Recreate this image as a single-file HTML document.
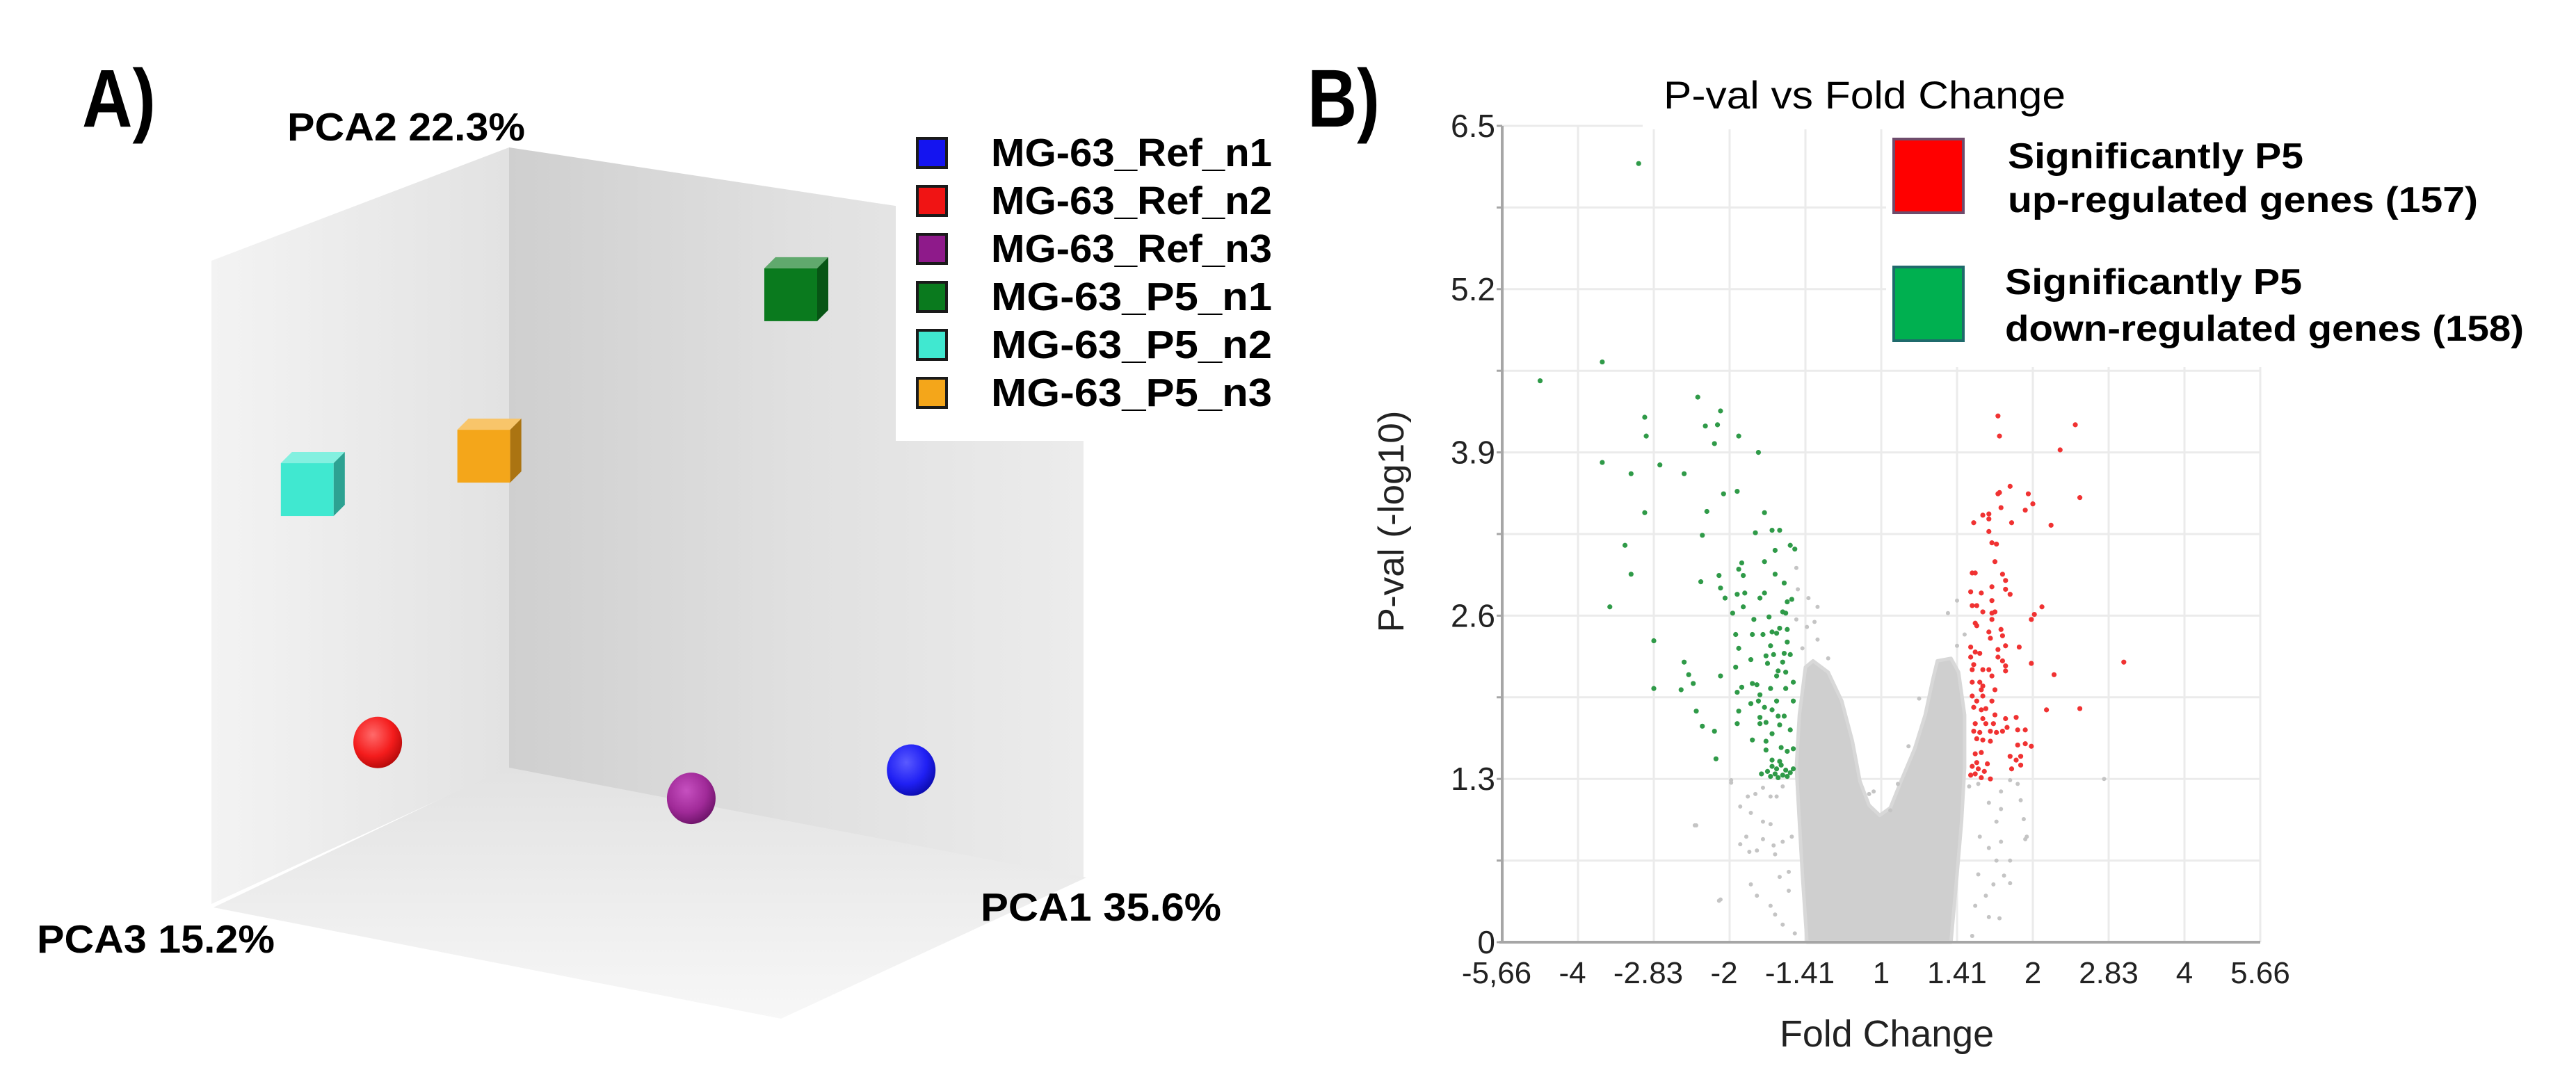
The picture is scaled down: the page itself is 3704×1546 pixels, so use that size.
<!DOCTYPE html>
<html>
<head>
<meta charset="utf-8">
<style>
  html,body{margin:0;padding:0;background:#fff;}
  svg{display:block;}
  text{font-family:"Liberation Sans",Arial,sans-serif;}
</style>
</head>
<body>
<svg id="fig" width="3704" height="1546" viewBox="0 0 3704 1546" xmlns="http://www.w3.org/2000/svg">
  <defs>
    <linearGradient id="gLeftWall" x1="304" y1="0" x2="732" y2="0" gradientUnits="userSpaceOnUse">
      <stop offset="0" stop-color="#f3f3f3"/><stop offset="1" stop-color="#e2e2e2"/>
    </linearGradient>
    <linearGradient id="gRightWall" x1="732" y1="0" x2="1558" y2="0" gradientUnits="userSpaceOnUse">
      <stop offset="0" stop-color="#cfcfcf"/><stop offset="0.5" stop-color="#e0e0e0"/><stop offset="1" stop-color="#ececec"/>
    </linearGradient>
    <linearGradient id="gFloor" x1="0" y1="1102" x2="0" y2="1465" gradientUnits="userSpaceOnUse">
      <stop offset="0" stop-color="#e2e2e2"/><stop offset="1" stop-color="#f7f7f7"/>
    </linearGradient>
    <radialGradient id="sphRed" cx="0.4" cy="0.35" r="0.7"><stop offset="0" stop-color="#ff6a6a"/><stop offset="0.6" stop-color="#f41c1c"/><stop offset="1" stop-color="#b00808"/></radialGradient>
    <radialGradient id="sphPurple" cx="0.4" cy="0.35" r="0.7"><stop offset="0" stop-color="#c650c0"/><stop offset="0.6" stop-color="#a02a98"/><stop offset="1" stop-color="#6a1266"/></radialGradient>
    <radialGradient id="sphBlue" cx="0.4" cy="0.35" r="0.7"><stop offset="0" stop-color="#5a5aff"/><stop offset="0.6" stop-color="#2020f4"/><stop offset="1" stop-color="#0a0aa8"/></radialGradient>
  </defs>

  <g id="panelA">
    <text x="118" y="182" font-size="118" font-weight="bold" textLength="106" lengthAdjust="spacingAndGlyphs">A)</text>
    <polygon points="732,1102 307,1305 1123,1465 1562,1262" fill="url(#gFloor)"/>
    <polygon points="304,375 732,212 732,1104 304,1300" fill="url(#gLeftWall)"/>
    <polygon points="732,212 1558,337 1558,1262 732,1104" fill="url(#gRightWall)"/>
    <g id="pcaMarks"></g>
    <rect x="1288" y="150" width="600" height="484" fill="#ffffff"/>
    <g id="pcaLegend"></g>
    <text x="413" y="202" font-size="57" font-weight="bold" textLength="342" lengthAdjust="spacingAndGlyphs">PCA2 22.3%</text>
    <text x="53" y="1370" font-size="57" font-weight="bold" textLength="342" lengthAdjust="spacingAndGlyphs">PCA3 15.2%</text>
    <text x="1410" y="1324" font-size="57" font-weight="bold" textLength="346" lengthAdjust="spacingAndGlyphs">PCA1 35.6%</text>
  </g>

  <g id="panelB">
    <text x="1880" y="182" font-size="118" font-weight="bold" textLength="104" lengthAdjust="spacingAndGlyphs">B)</text>
    <g id="grid"></g>
    <g id="cloud"></g>
    <g id="sigPts"></g>
    <rect x="2712" y="172" width="560" height="356" fill="#ffffff"/>
    <rect x="2362" y="170" width="360" height="16" fill="#ffffff"/>
    <text x="2392" y="156" font-size="56" textLength="578" lengthAdjust="spacingAndGlyphs">P-val vs Fold Change</text>
    <g id="axes"></g>
    <g>
      <rect x="2723" y="200" width="100" height="106" fill="#ff0000" stroke="#6e4c6c" stroke-width="4"/>
      <text x="2887" y="242" font-size="52" font-weight="bold" textLength="425" lengthAdjust="spacingAndGlyphs">Significantly P5</text>
      <text x="2887" y="305" font-size="52" font-weight="bold" textLength="676" lengthAdjust="spacingAndGlyphs">up-regulated genes (157)</text>
      <rect x="2723" y="384" width="100" height="106" fill="#00b050" stroke="#1f6a6c" stroke-width="4"/>
      <text x="2883" y="423" font-size="52" font-weight="bold" textLength="427" lengthAdjust="spacingAndGlyphs">Significantly P5</text>
      <text x="2883" y="490" font-size="52" font-weight="bold" textLength="746" lengthAdjust="spacingAndGlyphs">down-regulated genes (158)</text>
    </g>
    <text x="2713" y="1505" font-size="54" text-anchor="middle" textLength="308" lengthAdjust="spacingAndGlyphs" fill="#222">Fold Change</text>
    <text x="0" y="0" font-size="52" text-anchor="middle" textLength="319" lengthAdjust="spacingAndGlyphs" fill="#222" transform="translate(2018,750) rotate(-90)">P-val (-log10)</text>
  </g>
</svg>

<script>
const sampleNames = ["MG-63_Ref_n1","MG-63_Ref_n2","MG-63_Ref_n3","MG-63_P5_n1","MG-63_P5_n2","MG-63_P5_n3"];
const sampleColors = ["#1414f0","#f01414","#8e1a8a","#0a7a1e","#40e8d0","#f4a61a"];
const pc1 = [0.70, 0.08, 0.42, 0.50, 0.07, 0.12];
const pc2 = [0.12, 0.19, 0.07, 0.86, 0.65, 0.60];
const pc3 = [0.00, 0.60, 0.20, 0.00, 0.80, 0.30];
const sampleShape = ["sphere","sphere","sphere","cube","cube","cube"];

const xTickVals = [-2.5,-2,-1.5,-1,-0.5,0,0.5,1,1.5,2,2.5];
const xTickLabels = ["-5,66","-4","-2.83","-2","-1.41","1","1.41","2","2.83","4","5.66"];
const yTickVals = [0,1.3,2.6,3.9,5.2,6.5];
const yTickLabels = ["0","1.3","2.6","3.9","5.2","6.5"];

const greenLf = [-1.60,-1.84,-2.25,-1.21,-1.06,-1.56,-1.16,-1.08,-1.55,-0.94,-1.10,-0.81,-1.84,-1.46,-1.65,-1.30,-1.04,-0.95,-1.56,-1.15,-0.77,-1.18,-0.83,-0.72,-0.67,-1.69,-0.70,-0.60,-0.57,-0.92,-0.77,-0.94,-0.91,-1.65,-1.07,-0.70,-1.19,-0.64,-1.06,-0.95,-0.90,-1.03,-0.80,-0.77,-1.79,-0.91,-0.62,-0.59,-0.98,-0.84,-0.74,-0.65,-0.63,-0.96,-0.85,-0.78,-0.72,-0.67,-0.62,-0.69,-1.50,-0.94,-0.73,-0.62,-0.76,-0.71,-0.64,-0.60,-0.86,-1.30,-0.96,-0.75,-0.65,-0.68,-0.63,-0.69,-1.27,-1.06,-1.24,-0.85,-0.82,-0.58,-1.50,-1.32,-0.95,-0.92,-0.80,-0.73,-0.63,-0.86,-0.81,-0.69,-0.58,-1.22,-0.94,-0.77,-0.72,-0.68,-0.64,-0.80,-1.18,-0.95,-0.80,-0.76,-0.67,-1.10,-0.72,-0.60,-0.85,-0.76,-0.76,-0.66,-0.58,-0.62,-1.09,-0.72,-0.67,-0.72,-0.69,-0.66,-0.63,-0.70,-0.65,-0.60,-0.75,-0.68,-0.62,-0.58,-0.73,-0.79];
const greenP  = [6.20,4.62,4.47,4.34,4.23,4.18,4.11,4.12,4.03,4.03,3.97,3.90,3.82,3.80,3.73,3.73,3.57,3.59,3.42,3.43,3.42,3.24,3.26,3.28,3.28,3.16,3.12,3.16,3.13,3.02,3.03,2.97,2.92,2.93,2.92,2.93,2.87,2.86,2.82,2.77,2.78,2.74,2.74,2.78,2.67,2.67,2.71,2.73,2.62,2.57,2.59,2.63,2.62,2.45,2.45,2.45,2.47,2.50,2.49,2.46,2.40,2.34,2.36,2.39,2.28,2.29,2.30,2.29,2.25,2.23,2.19,2.22,2.23,2.16,2.15,2.12,2.13,2.12,2.06,2.06,2.05,2.07,2.02,2.01,1.99,2.03,1.97,2.02,2.02,1.90,1.92,1.92,1.92,1.84,1.84,1.87,1.85,1.80,1.80,1.79,1.72,1.74,1.74,1.75,1.73,1.68,1.66,1.69,1.61,1.60,1.53,1.55,1.54,1.52,1.46,1.45,1.44,1.40,1.38,1.41,1.37,1.34,1.33,1.35,1.36,1.31,1.32,1.38,1.32,1.34];

const redLf = [0.77,1.28,0.78,1.18,0.85,0.77,0.78,0.97,1.31,1.00,0.79,0.95,0.67,0.71,0.71,0.61,0.86,1.12,0.71,0.73,0.76,0.75,0.60,0.62,0.80,0.82,0.59,0.66,0.73,0.82,0.85,0.73,0.60,0.63,0.67,0.73,0.75,1.06,1.01,0.99,0.73,0.62,0.63,0.79,0.71,0.80,0.72,0.82,0.91,0.77,0.59,0.62,0.65,0.59,0.77,0.80,0.99,1.60,0.61,0.82,0.60,0.67,0.71,0.82,0.73,1.14,0.60,0.65,0.67,0.66,0.75,0.60,0.67,0.63,0.73,0.61,0.66,0.69,1.09,1.31,0.75,0.82,0.89,0.67,0.62,0.69,0.74,0.83,0.61,0.65,0.72,0.76,0.80,0.90,0.95,0.63,0.67,0.72,0.90,0.95,0.99,0.62,0.66,0.85,0.92,0.63,0.60,0.64,0.68,0.62,0.70,0.59,0.66,0.72,0.89,0.92,0.86];
const redP  = [4.19,4.12,4.03,3.92,3.63,3.57,3.58,3.57,3.54,3.49,3.46,3.44,3.40,3.41,3.37,3.34,3.34,3.32,3.27,3.18,3.17,3.03,2.94,2.94,2.93,2.88,2.79,2.78,2.83,2.81,2.77,2.72,2.68,2.68,2.63,2.62,2.63,2.67,2.61,2.57,2.57,2.54,2.52,2.49,2.47,2.44,2.42,2.36,2.35,2.33,2.35,2.31,2.30,2.27,2.27,2.24,2.22,2.23,2.21,2.20,2.17,2.17,2.17,2.16,2.12,2.13,2.07,2.07,2.04,2.01,2.01,1.96,1.96,1.92,1.92,1.87,1.85,1.86,1.85,1.86,1.81,1.78,1.79,1.78,1.74,1.74,1.74,1.71,1.68,1.67,1.68,1.67,1.68,1.69,1.69,1.62,1.61,1.60,1.57,1.58,1.56,1.50,1.51,1.48,1.48,1.43,1.40,1.38,1.36,1.34,1.42,1.33,1.31,1.30,1.45,1.41,1.38];

const grayLf = [-0.56,-0.55,-0.48,-0.42,-0.44,-0.56,-0.49,-0.42,-0.52,-0.35,-0.99,-0.93,-0.88,-0.83,-0.86,-0.78,-0.73,-0.69,-0.65,-0.78,-0.73,-0.89,-0.93,-0.87,-0.82,-0.78,-0.71,-0.70,-0.65,-0.59,-1.22,-0.86,-0.82,-1.07,-0.73,-0.67,-0.61,-0.70,-0.65,-0.57,-0.61,0.44,0.50,0.55,0.50,0.58,0.64,0.71,0.79,0.85,0.90,0.92,0.79,0.94,0.95,0.76,0.79,0.71,0.65,0.76,0.85,0.64,0.74,0.81,0.85,0.69,0.62,0.71,0.78,0.60,0.25,0.18,0.11,-0.05,0.06,-0.08,1.47,-1.23,-1.06,-0.99,0.96];
const grayP  = [2.98,2.81,2.74,2.67,2.55,2.57,2.51,2.41,2.34,2.26,1.27,1.08,1.16,1.18,1.03,1.23,1.16,1.16,1.24,0.96,0.94,0.84,0.78,0.72,0.73,0.82,0.77,0.70,0.80,0.84,0.93,0.46,0.37,0.33,0.29,0.52,0.41,0.22,0.14,0.07,0.56,2.62,2.72,2.45,2.36,1.24,1.26,1.11,1.20,1.29,1.26,1.13,1.06,0.98,0.82,0.96,0.80,0.75,0.84,0.65,0.65,0.54,0.46,0.53,0.47,0.37,0.29,0.20,0.19,0.05,1.94,1.56,1.26,1.20,1.05,1.18,1.30,0.93,0.34,1.29,0.84];

const cloudLf = [-0.49,-0.52,-0.54,-0.56,-0.54,-0.50,-0.45,-0.35,-0.26,-0.19,-0.14,-0.08,-0.01,0.06,0.13,0.22,0.29,0.34,0.37,0.46,0.51,0.55,0.55,0.53,0.50,0.46];
const cloudP  = [0.00,0.54,0.96,1.39,1.81,2.19,2.24,2.15,1.92,1.60,1.28,1.09,1.01,1.07,1.28,1.54,1.81,2.09,2.24,2.26,2.15,1.81,1.39,0.96,0.54,0.00];

const SVGNS = "http://www.w3.org/2000/svg";
function mk(tag, attrs, parent){
  const e = document.createElementNS(SVGNS, tag);
  for (const k in attrs) e.setAttribute(k, attrs[k]);
  parent.appendChild(e);
  return e;
}

const O = [732,1104], V1 = [826,158], V2 = [0,-892], V3 = [-425,201];
function proj(a,b,c){ return [O[0]+a*V1[0]+b*V2[0]+c*V3[0], O[1]+a*V1[1]+b*V2[1]+c*V3[1]]; }
function shade(hex, f){
  const n = parseInt(hex.slice(1),16);
  let r=(n>>16)&255,g=(n>>8)&255,b=n&255;
  const m = v => Math.max(0,Math.min(255,Math.round(f>1? v+(255-v)*(f-1) : v*f)));
  return "rgb("+m(r)+","+m(g)+","+m(b)+")";
}
const marksG = document.getElementById("pcaMarks");
const sphereFills = {"#1414f0":"url(#sphBlue)","#f01414":"url(#sphRed)","#8e1a8a":"url(#sphPurple)"};
for (let i=0;i<sampleNames.length;i++){
  const p = proj(pc1[i],pc2[i],pc3[i]);
  if (sampleShape[i]==="sphere"){
    const c = mk("ellipse",{cx:p[0],cy:p[1],rx:35,ry:37,fill:sphereFills[sampleColors[i]]},marksG);
    
    
  } else {
    const g = mk("g",{},marksG);
    
    
    const s = 76, d = 16;
    const x0 = p[0]-s/2-d/2, y0 = p[1]-s/2+d/2;
    mk("rect",{x:x0,y:y0,width:s,height:s,fill:sampleColors[i]},g);
    mk("polygon",{points:[x0,y0, x0+s,y0, x0+s+d,y0-d, x0+d,y0-d].join(" "),fill:shade(sampleColors[i],1.35)},g);
    mk("polygon",{points:[x0+s,y0, x0+s+d,y0-d, x0+s+d,y0+s-d, x0+s,y0+s].join(" "),fill:shade(sampleColors[i],0.7)},g);
  }
}
const legA = document.getElementById("pcaLegend");
for (let i=0;i<sampleNames.length;i++){
  const y = 199 + i*69;
  const sw = mk("rect",{x:1319,y:y,width:42,height:42,fill:sampleColors[i],stroke:"#1a1a1a","stroke-width":4},legA);
  
  
  const t = mk("text",{x:1425,y:y+40,"font-size":57,"font-weight":"bold",textLength:404,lengthAdjust:"spacingAndGlyphs"},legA);
  t.textContent = sampleNames[i];
  
  
}

const X0 = 2160, X1 = 3250, Y0 = 1355, YMAX = 6.5, YTOP = 181;
function xs(lf){ return X0 + (lf + 2.5) / 5 * (X1 - X0); }
function ys(p){ return Y0 - p / YMAX * (Y0 - YTOP); }

const grid = document.getElementById("grid");
for (let i=1;i<xTickVals.length;i++){
  const l = mk("line",{x1:xs(xTickVals[i]),x2:xs(xTickVals[i]),y1:ys(YMAX),y2:Y0,stroke:"#ebebeb","stroke-width":3},grid);
  
  
}
for (let k=1;k<=10;k++){
  const v = k*0.65;
  const l = mk("line",{x1:X0,x2:X1,y1:ys(v),y2:ys(v),stroke:"#ebebeb","stroke-width":3},grid);
  
  
}

const cloudG = document.getElementById("cloud");
const pts = cloudLf.map((v,i)=> xs(v).toFixed(1)+","+ys(cloudP[i]).toFixed(1)).join(" ");
const poly = mk("polygon",{points:pts,fill:"#cfcfcf",stroke:"#d8d8d8","stroke-width":5,"stroke-linejoin":"round"},cloudG);


for (let i=0;i<grayLf.length;i++){
  const c = mk("circle",{cx:xs(grayLf[i]),cy:ys(grayP[i]),r:3,fill:"#c4c4c4"},cloudG);
  
  
}

const sigG = document.getElementById("sigPts");
for (let i=0;i<greenLf.length;i++){
  const c = mk("circle",{cx:xs(greenLf[i]),cy:ys(greenP[i]),r:3.6,fill:"#2f9a48"},sigG);
  
  
}
for (let i=0;i<redLf.length;i++){
  const c = mk("circle",{cx:xs(redLf[i]),cy:ys(redP[i]),r:3.6,fill:"#f03232"},sigG);
  
  
}

const axes = document.getElementById("axes");
const ya = mk("line",{x1:X0,x2:X0,y1:YTOP,y2:Y0+2,stroke:"#a6a6a6","stroke-width":4},axes);


const xa = mk("line",{x1:X0-4,x2:X1,y1:Y0,y2:Y0,stroke:"#a6a6a6","stroke-width":4},axes);


for (let k=0;k<=10;k++){
  const tk = mk("line",{x1:X0-8,x2:X0,y1:ys(k*0.65),y2:ys(k*0.65),stroke:"#a6a6a6","stroke-width":3},axes);
  
  
}
for (let i=0;i<yTickVals.length;i++){
  const t = mk("text",{x:X0-10,y:ys(yTickVals[i])+16,"font-size":46,"text-anchor":"end",fill:"#222"},axes);
  t.textContent = yTickLabels[i];
  
  
}
for (let i=0;i<xTickVals.length;i++){
  const off = xTickLabels[i].charAt(0)==="-" ? -8 : 0;
  const t = mk("text",{x:xs(xTickVals[i])+off,y:1414,"font-size":44,"text-anchor":"middle",fill:"#222"},axes);
  t.textContent = xTickLabels[i];
  
  
}
</script>
</body>
</html>
